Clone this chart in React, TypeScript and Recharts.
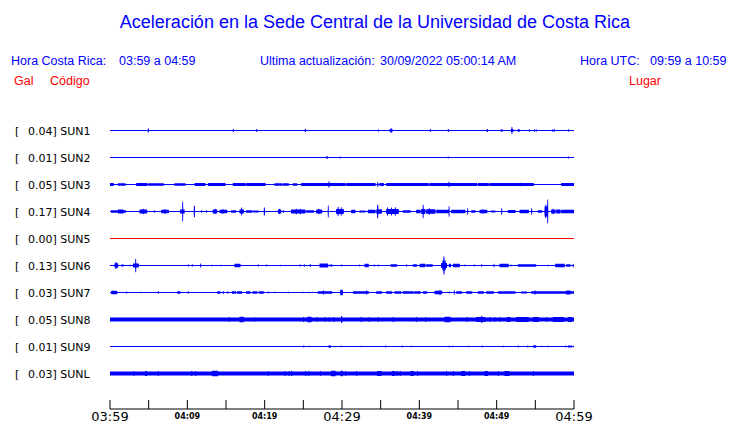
import React from 'react';
import { ComposedChart, Area, XAxis, YAxis } from 'recharts';

// ---------- data ----------
const STATION_CODES = ['SUN1', 'SUN2', 'SUN3', 'SUN4', 'SUN5', 'SUN6', 'SUN7', 'SUN8', 'SUN9', 'SUNL'];
const PEAK_GAL = ['0.04', '0.01', '0.05', '0.17', '0.00', '0.13', '0.03', '0.05', '0.01', '0.03'];
const PLACES = ['CIMAR', 'Ingenieria P01', 'Ingenieria P06', 'EBCI', 'Rectoria', 'Agroalimentarias', 'Archivo', 'Electrica P06', 'Electrica P01', 'LANAMME-CTT'];
// background (quiet) half-amplitude of each trace
const BASE_AMP = [0.5, 0.5, 0.5, 0.5, 0.5, 0.5, 0.5, 2, 0.5, 2];

const TICK_MINUTES = [0, 5, 10, 15, 20, 25, 30, 35, 40, 45, 50, 55, 60];
const TICK_LABELS = ['03:59', '', '04:09', '', '04:19', '', '04:29', '', '04:39', '', '04:49', '', '04:59'];
const MAJOR_LABELS = ['03:59', '04:29', '04:59'];

// events: [start minute, end minute, half amplitude]
const SUN1_EVENTS = [
  [4.96, 4.96, 2], [15.95, 15.95, 1.5], [18.97, 18.97, 1.5], [25.26, 25.26, 1.5], [34.7, 34.7, 1.2],
  [36.2, 36.5, 1.2], [36.34, 36.34, 2.5], [41.42, 41.42, 1.5], [43.75, 43.75, 1.5], [48.79, 48.79, 1.5],
  [50.6, 50.7, 1.3], [51.9, 52.1, 1.5], [51.98, 51.98, 3.5], [52.8, 52.9, 1.5], [54.22, 54.22, 1.3],
  [54.87, 54.87, 1.3], [55.13, 55.13, 1.3], [57.24, 57.24, 1.2], [57.46, 57.46, 1.2], [59.27, 59.27, 1.2],
];
const SUN2_EVENTS = [[28.06, 28.06, 1.5], [29.78, 29.78, 1.0], [43.75, 43.75, 1.0], [59.27, 59.27, 1.0]];
const SUN3_EVENTS = [
  [0, 0.43, 1.5], [1.08, 1.94, 1.3], [3.45, 4.74, 1.5], [4.96, 6.9, 1.3], [8.41, 9.7, 1.3], [11.0, 12.28, 1.5],
  [12.72, 14.87, 1.5], [15.95, 17.46, 1.5], [17.67, 20.04, 1.5], [21.34, 22.2, 1.3], [22.41, 23.06, 1.3],
  [23.71, 24.14, 1.3], [24.78, 28.2, 1.5], [28.45, 30.39, 1.5], [30.6, 34.27, 1.5], [34.91, 35.34, 1.5],
  [35.78, 41.16, 1.5], [41.38, 43.75, 1.5], [43.97, 47.41, 1.5], [47.63, 48.92, 1.5], [49.14, 53.02, 1.5],
  [53.23, 54.74, 1.5], [58.41, 60, 1.6],
  [28.32, 28.32, 3.3], [34.61, 34.61, 2.3], [43.84, 43.84, 2.7], [53.1, 53.1, 1.8],
];
const SUN4_EVENTS = [
  [0.2, 2.0, 1.3], [1.1, 1.7, 2.0], [3.88, 4.74, 2.0], [4.3, 4.3, 2.7], [5.73, 5.73, 1.2], [6.68, 7.54, 1.8], [7.1, 7.1, 2.5],
  [9.1, 9.6, 2.0], [9.4, 9.4, 10], [10.91, 10.91, 5.7], [11.85, 11.85, 1.2], [12.5, 12.5, 1.2],
  [13.36, 13.79, 2.0], [13.6, 13.6, 2.7], [14.22, 15.09, 1.8], [14.6, 14.6, 2.5], [15.73, 16.25, 1.3],
  [16.81, 17.24, 2.0], [17.03, 17.03, 4], [17.67, 18.32, 1.3], [18.53, 19.18, 1.0], [19.96, 19.96, 4],
  [21.77, 22.07, 2.0], [21.9, 21.9, 2.7], [22.41, 22.41, 1.2],
  [23.49, 25.22, 2.0], [24.1, 24.1, 2.7], [24.6, 24.6, 2.7], [25.43, 26.29, 1.3], [26.72, 27.37, 2.0], [27.0, 27.0, 2.7],
  [28.23, 28.23, 6], [29.31, 30.17, 2.5], [29.5, 29.5, 4.7], [29.9, 29.9, 4.3],
  [31.25, 31.68, 1.7], [32.33, 32.97, 1.0], [33.41, 34.27, 1.7], [34.5, 35.1, 2.2], [34.61, 34.61, 6.7],
  [35.78, 37.28, 2.5], [35.9, 35.9, 4.3], [36.4, 36.4, 4.0], [36.9, 36.9, 4.3], [37.93, 38.79, 1.3],
  [39.66, 40.09, 1.7], [40.3, 40.73, 2.5], [40.5, 40.5, 6.7], [40.95, 42.03, 2.3], [41.3, 41.3, 3.3],
  [42.24, 43.75, 1.7], [43.84, 43.84, 5.3], [44.18, 45.91, 1.7], [46.25, 46.25, 3.3],
  [46.77, 47.2, 1.3], [47.84, 48.71, 1.8], [48.2, 48.2, 2.3], [49.35, 49.78, 1.0], [50.65, 50.65, 3.3],
  [51.51, 52.37, 1.5], [53.02, 54.09, 1.7], [54.53, 54.53, 3.3], [55.39, 55.82, 1.3], [56.25, 56.47, 5],
  [56.35, 56.35, 6.7], [56.59, 56.59, 12], [57.11, 57.54, 2.0], [57.3, 57.3, 2.7], [57.76, 58.19, 2.0],
  [58.41, 60, 1.7],
];
const SUN5_EVENTS: number[][] = [];
const SUN6_EVENTS = [
  [0.65, 0.99, 2.3], [0.78, 0.78, 3.5], [1.51, 1.72, 1.0], [2.59, 2.59, 0.8], [3.02, 3.66, 2.0], [3.32, 3.32, 6.7],
  [10.13, 10.13, 1.3], [10.65, 10.65, 1.3], [11.72, 11.72, 2], [13.23, 13.23, 0.8], [14.27, 14.27, 0.8],
  [16.16, 16.81, 1.7], [19.18, 19.18, 1.3], [20.26, 20.26, 1], [22.03, 22.03, 0.8], [24.57, 24.57, 1.3],
  [25.13, 25.13, 1.3], [25.91, 25.91, 1.3], [27.16, 28.15, 2], [28.45, 28.45, 1.2], [28.66, 28.66, 1.2],
  [29.96, 29.96, 1], [32.24, 32.24, 1], [32.97, 33.41, 1.7], [34.18, 34.18, 1], [34.7, 34.7, 1],
  [36.34, 37.07, 1.3], [38.36, 38.36, 1], [39.22, 39.66, 1.3], [40.09, 40.73, 1.7], [40.95, 41.68, 1.3],
  [42.89, 43.53, 2.5], [43.19, 43.19, 9], [43.05, 43.05, 5], [43.35, 43.35, 5], [43.88, 44.05, 1.7], [44.4, 45.17, 1.7], [45.91, 45.91, 1],
  [47.11, 47.11, 1], [48.06, 48.06, 1.3], [49.66, 49.66, 1.7], [50.43, 51.51, 1.7], [51.85, 51.85, 1],
  [52.8, 55.04, 1.3], [56.68, 56.68, 0.8], [57.63, 58.75, 1.7], [59.05, 59.48, 1.3], [59.91, 59.91, 1.7],
];
const SUN7_EVENTS = [
  [0.22, 0.86, 1.7], [2.16, 2.16, 1], [3.97, 3.97, 0.8], [6.25, 6.25, 1.3], [8.75, 9.05, 1.3], [10.13, 10.13, 1.3],
  [13.92, 14.22, 1.3], [14.66, 14.66, 1.3], [15.22, 15.22, 1.3], [15.82, 16.25, 1.3], [16.51, 17.03, 1.3],
  [17.67, 18.1, 1.3], [18.5, 19.0, 1.3], [19.3, 19.83, 1.3], [20.47, 20.47, 1], [21.34, 21.34, 0.8],
  [23.06, 23.06, 0.8], [24.91, 24.91, 0.8], [25.73, 25.73, 0.8], [26.94, 28.66, 1.3], [27.59, 27.59, 2],
  [29.83, 30.04, 2.7], [31.47, 33.41, 1.3], [33.19, 33.19, 2], [34.48, 35.13, 1.3], [35.78, 36.42, 1.3],
  [36.85, 37.6, 1.3], [37.9, 39.22, 1.3], [39.44, 40.09, 1.3], [40.52, 40.95, 1.3], [42.03, 42.89, 1.7],
  [42.67, 42.67, 2.7], [43.88, 43.88, 1], [44.53, 44.53, 2.3], [44.83, 45.47, 1.3], [46.12, 46.77, 1.3],
  [47.63, 48.28, 1.3], [48.71, 49.57, 1.3], [50.22, 52.37, 1.3], [53.23, 53.88, 1], [54.53, 60, 1.3],
  [54.96, 54.96, 2], [59.05, 59.48, 2],
];
const SUN8_EVENTS = [
  [15.43, 15.43, 2.5], [16.81, 17.24, 2.8], [18.75, 18.75, 2.3], [25.04, 25.04, 2.5], [25.56, 25.99, 2.8],
  [26.77, 26.77, 2.5], [27.8, 27.8, 2.5], [28.32, 28.32, 2.5], [28.92, 28.92, 2.5], [29.96, 29.96, 3.5],
  [32.46, 32.46, 2.5], [33.53, 33.53, 2.5], [34.7, 34.7, 2.5], [36.64, 36.64, 2.5], [39.61, 39.61, 2.5],
  [40.82, 40.82, 2.5], [43.32, 43.97, 2.8], [46.21, 46.21, 2.6], [47.41, 48.49, 2.6], [48.06, 48.06, 3.5],
  [49.14, 49.14, 2.5], [49.78, 49.78, 2.5], [50.43, 50.43, 2.5], [51.38, 51.72, 2.6], [52.59, 54.09, 2.5],
  [54.74, 55.39, 2.5], [56.47, 56.47, 2.5], [57.33, 58.62, 2.5], [59.27, 59.7, 2.6],
];
const SUN9_EVENTS = [
  [25.04, 25.04, 1], [25.78, 25.78, 0.8], [28.32, 28.5, 1.3], [29.91, 29.91, 0.8], [32.5, 32.5, 0.8],
  [35.65, 35.65, 1], [37.8, 37.8, 1], [39.01, 39.01, 0.8], [43.88, 43.88, 1], [44.31, 44.31, 0.8],
  [46.34, 46.34, 0.8], [48.15, 48.15, 1], [50.86, 50.86, 0.8], [52.8, 52.8, 1], [54.01, 54.01, 1],
  [54.78, 55.04, 1.3], [55.82, 55.82, 0.8], [56.68, 56.68, 0.8], [58.92, 58.92, 1], [59.27, 59.7, 1],
  [60, 60, 1],
];
const SUNL_EVENTS = [
  [3.1, 3.1, 2.6], [4.57, 4.74, 2.6], [6.25, 6.25, 2.4], [10.56, 10.56, 2.4], [11.08, 11.08, 2.4],
  [13.23, 13.92, 2.8], [20.47, 20.47, 2.4], [22.63, 22.63, 2.4], [23.15, 23.15, 2.4], [23.49, 23.49, 2.4],
  [25.3, 25.3, 2.4], [25.73, 25.73, 2.4], [27.2, 27.2, 2.5], [28.66, 29.09, 2.8], [29.87, 30.04, 2.8],
  [30.47, 30.47, 2.5], [31.9, 31.9, 2.4], [34.61, 35.04, 2.6], [36.51, 36.77, 2.6], [37.11, 37.11, 2.6],
  [37.54, 37.54, 2.6], [38.92, 39.22, 2.6], [39.78, 39.78, 2.5], [43.53, 43.53, 2.6], [44.4, 44.4, 2.6],
  [45.47, 45.91, 2.5], [46.47, 46.47, 2.5], [48.49, 48.79, 2.5], [50.22, 50.22, 2.5], [51.08, 51.59, 2.6],
  [54.74, 54.74, 2.4],
];
const STATION_EVENTS = [SUN1_EVENTS, SUN2_EVENTS, SUN3_EVENTS, SUN4_EVENTS, SUN5_EVENTS, SUN6_EVENTS, SUN7_EVENTS, SUN8_EVENTS, SUN9_EVENTS, SUNL_EVENTS];

// ---------- style / layout ----------
const BLUE = '#0000ff';
const RED = '#ff0000';
const TRACE_COLOR = (i: number) => (PEAK_GAL[i] === '0.00' ? RED : BLUE);
const ROW_UNITS = 27; // amplitude units per row spacing
const STEP = 0.025; // grid resolution (minutes)
const HALF_MARK = 0.065; // half width of a single spike (minutes)
const W = 740;
const H = 423;

// build the table used by the chart (envelope per trace on a time grid)
const buildTable = () => {
  const n = Math.round(60 / STEP);
  const rows: any[] = [];
  for (let k = 0; k <= n; k++) {
    const t = +(k * STEP).toFixed(4);
    const row: any = { t };
    STATION_EVENTS.forEach((events, i) => {
      let a = BASE_AMP[i];
      for (const [s, e, amp] of events) {
        if (t >= s - HALF_MARK && t <= e + HALF_MARK) a = Math.max(a, amp);
      }
      const half = a / ROW_UNITS;
      row[`s${i}`] = [i - half, i + half];
    });
    rows.push(row);
  }
  return rows;
};
const TABLE = buildTable();
const ROW_TICKS = STATION_CODES.map((_, i) => i);

const LeftLabel = (props: any) => {
  const { y, payload } = props;
  const i = payload.value;
  return (
    <g fontFamily="DejaVu Sans" fontSize={11} fill="#000">
      <text x={15} y={y} dy={4}>[</text>
      <text x={28} y={y} dy={4}>{`${PEAK_GAL[i]}] ${STATION_CODES[i]}`}</text>
    </g>
  );
};
const RightLabel = (props: any) => {
  const { x, y, payload } = props;
  return (
    <text x={x + 13} y={y} dy={4} fontFamily="DejaVu Sans" fontSize={11} fill="#000">
      {PLACES[payload.value]}
    </text>
  );
};
const TimeTick = (props: any) => {
  const { x, y, payload } = props;
  const label = TICK_LABELS[TICK_MINUTES.indexOf(payload.value)] || '';
  const major = MAJOR_LABELS.includes(label);
  return (
    <g>
      <line x1={x} x2={x} y1={y - 9} y2={y} stroke="#000" strokeWidth={1} />
      {label && (
        <text
          x={x}
          y={y + (major ? 12 : 10)}
          textAnchor="middle"
          fontFamily="DejaVu Sans"
          fontSize={major ? 13 : 8}
          fontWeight={major ? 'normal' : 'bold'}
          fill="#000"
        >
          {label}
        </text>
      )}
    </g>
  );
};

const HeaderText = () => (
  <svg width={W} height={H} style={{ position: 'absolute', left: 0, top: 0, pointerEvents: 'none' }}>
    <g fontFamily="Liberation Sans">
      <text x={375} y={28} textAnchor="middle" fontSize={18} fill={BLUE}>
        Aceleración en la Sede Central de la Universidad de Costa Rica
      </text>
      <g fontSize={12.5} fill={BLUE}>
        <text x={11} y={65}>Hora Costa Rica:</text>
        <text x={119} y={65}>03:59 a 04:59</text>
        <text x={260} y={65}>Ultima actualización:</text>
        <text x={380} y={65}>30/09/2022 05:00:14 AM</text>
        <text x={580} y={65}>Hora UTC:</text>
        <text x={650} y={65}>09:59 a 10:59</text>
      </g>
      <g fontSize={12.5} fill={RED}>
        <text x={14} y={85}>Gal</text>
        <text x={50} y={85}>Código</text>
        <text x={629} y={85}>Lugar</text>
      </g>
    </g>
  </svg>
);

export default function App() {
  return (
    <div style={{ position: 'absolute', left: 0, top: 0, width: W, height: H, background: '#fff' }}>
      <ComposedChart width={W} height={H} data={TABLE} margin={{ top: 117, right: 0, bottom: 0, left: 0 }}>
        <XAxis
          dataKey="t"
          type="number"
          domain={[0, 60]}
          ticks={TICK_MINUTES}
          interval={0}
          height={14}
          axisLine={{ stroke: '#000', strokeWidth: 1 }}
          tickLine={false}
          tickSize={0}
          tickMargin={0}
          tick={<TimeTick />}
        />
        <YAxis
          yAxisId="rows"
          type="number"
          domain={[-0.5, 10.3148]}
          reversed
          ticks={ROW_TICKS}
          interval={0}
          width={110}
          axisLine={false}
          tickLine={false}
          tick={<LeftLabel />}
        />
        <YAxis
          yAxisId="right"
          orientation="right"
          type="number"
          domain={[-0.5, 10.3148]}
          reversed
          ticks={ROW_TICKS}
          interval={0}
          width={166}
          axisLine={false}
          tickLine={false}
          tickSize={0}
          tickMargin={0}
          tick={<RightLabel />}
        />
        {STATION_CODES.map((code, i) => (
          <Area
            key={code}
            yAxisId="rows"
            dataKey={`s${i}`}
            type="linear"
            stroke="none"
            fill={TRACE_COLOR(i)}
            fillOpacity={1}
            dot={false}
            activeDot={false}
            isAnimationActive={false}
          />
        ))}
      </ComposedChart>
      <HeaderText />
    </div>
  );
}
